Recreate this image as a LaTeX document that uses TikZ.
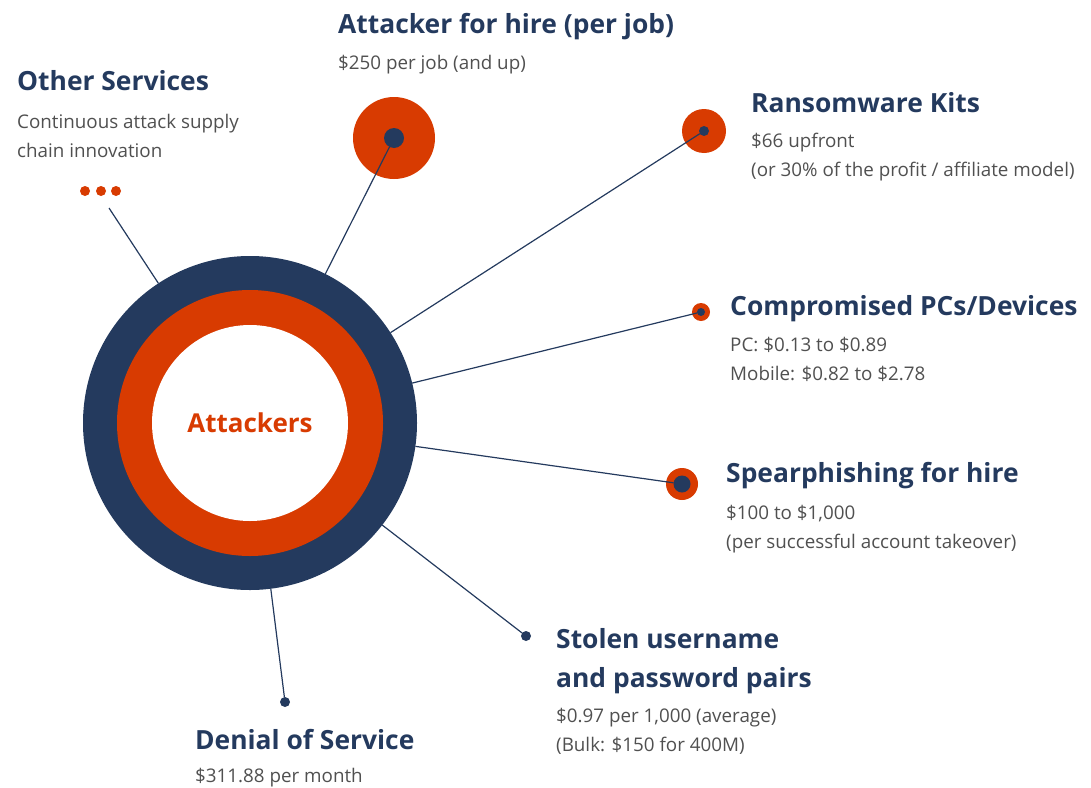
\documentclass[tikz,border=0pt]{standalone}
\usepackage{fontspec}
\setmainfont{Open Sans}
\definecolor{navy}{HTML}{243A5E}
\definecolor{msorange}{HTML}{D83B01}
\definecolor{bodygray}{HTML}{505050}
\begin{document}
\begin{tikzpicture}[x=1pt,y=-1pt,
  title/.style={anchor=base west, inner sep=0pt, text=navy, font=\fontsize{26.4}{30}\selectfont\bfseries},
  body/.style={anchor=base west, inner sep=0pt, text=bodygray, font=\fontsize{18.8}{22}\selectfont},
  link/.style={draw=navy, line width=1.2pt},
  dot/.style={circle, fill=navy, inner sep=0pt, outer sep=0pt, minimum size=#1},
  halo/.style={circle, fill=msorange, inner sep=0pt, outer sep=0pt, minimum size=#1}]
\useasboundingbox (0,0) rectangle (1091,787);
% central target
\node[circle, fill=navy, inner sep=0pt, outer sep=0pt, minimum size=334pt] (main) at (250,423) {};
\node[circle, fill=msorange, inner sep=0pt, outer sep=0pt, minimum size=266pt] (ring) at (250,423) {};
\node[circle, fill=white, inner sep=0pt, outer sep=0pt, minimum size=196pt, text=msorange,
      font=\fontsize{26}{30}\selectfont\bfseries] (core) at (250,423) {Attackers};
% halos
\node[halo=82pt] (h1) at (394,138) {};
\node[halo=44pt] (h2) at (704,131) {};
\node[halo=18pt] (h3) at (701,312) {};
\node[halo=32pt] (h4) at (682,484) {};
% dots
\node[dot=20pt] (d1) at (394,138) {};
\node[dot=10pt] (d2) at (704,131) {};
\node[dot=8pt] (d3) at (701,312) {};
\node[dot=17pt] (d4) at (682,484) {};
\node[dot=10pt] (d5) at (526,636) {};
\node[dot=10pt] (d6) at (285,702) {};
% other services ellipsis
\node[halo=10pt] (e1) at (85,191) {};
\node[halo=10pt] (e2) at (101,191) {};
\node[halo=10pt] (e3) at (116,191) {};
\coordinate (os) at (109,208);
% connectors
\draw[link] (os) -- (main);
\draw[link] (d1) -- (main);
\draw[link] (d2) -- (main);
\draw[link] (d3) -- (main);
\draw[link] (d4) -- (main);
\draw[link] (d5) -- (main);
\draw[link] (d6) -- (main);
% texts
\node[title] (t1) at (338,33) {Attacker for hire (per job)};
\node[body] (b1) at (338,69) {\$250 per job (and up)};
\node[title] (t0) at (17,90) {Other Services};
\node[body] (b0a) at (17,128) {Continuous attack supply};
\node[body] (b0b) at (17,157) {chain innovation};
\node[title] (t2) at (751,112) {Ransomware Kits};
\node[body] (b2a) at (751,147) {\$66 upfront};
\node[body] (b2b) at (751,176) {(or 30\% of the profit / affiliate model)};
\node[title] (t3) at (730,315) {Compromised PCs/Devices};
\node[body] (b3a) at (730,351) {PC: \$0.13 to \$0.89};
\node[body] (b3b) at (730,380) {Mobile: \$0.82 to \$2.78};
\node[title] (t4) at (726,482) {Spearphishing for hire};
\node[body] (b4a) at (726,519) {\$100 to \$1,000};
\node[body] (b4b) at (726,548) {(per successful account takeover)};
\node[title] (t5a) at (556,648) {Stolen username};
\node[title] (t5b) at (556,687) {and password pairs};
\node[body] (b5a) at (556,722) {\$0.97 per 1,000 (average)};
\node[body] (b5b) at (556,751) {(Bulk: \$150 for 400M)};
\node[title] (t6) at (195,749) {Denial of Service};
\node[body] (b6) at (195,782) {\$311.88 per month};
\end{tikzpicture}
\end{document}
